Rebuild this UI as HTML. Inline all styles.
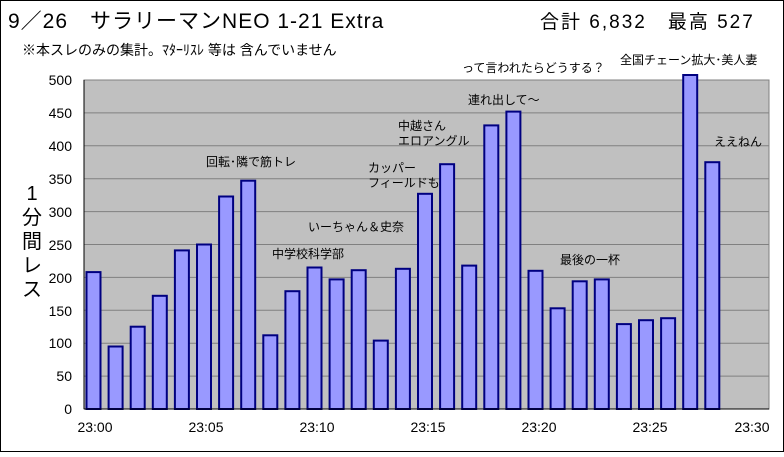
<!DOCTYPE html><html><head><meta charset="utf-8"><style>
body{margin:0;background:#fff}
svg text{font-family:"Liberation Sans","Noto Sans CJK JP",sans-serif;fill:#000}
</style></head><body>
<svg width="784" height="452" xmlns="http://www.w3.org/2000/svg">
<rect x="0.5" y="0.5" width="783" height="451" fill="#fff" stroke="#000"/>
<text x="8" y="28" font-size="21" letter-spacing="1">9／26　サラリーマンNEO 1-21 Extra</text>
<text x="540" y="28" font-size="19" letter-spacing="2">合計 6,832　最高 527</text>
<text x="22" y="55" font-size="14">※本スレのみの集計。ﾏﾀｰﾘｽﾚ 等は 含んでいません</text>
<rect x="84" y="80" width="685" height="329" fill="#c0c0c0" stroke="#808080"/>
<g stroke="#808080" stroke-width="1">
<line x1="84" x2="769" y1="112.9" y2="112.9"/><line x1="84" x2="769" y1="145.8" y2="145.8"/>
<line x1="84" x2="769" y1="178.7" y2="178.7"/><line x1="84" x2="769" y1="211.6" y2="211.6"/>
<line x1="84" x2="769" y1="244.5" y2="244.5"/><line x1="84" x2="769" y1="277.4" y2="277.4"/>
<line x1="84" x2="769" y1="310.3" y2="310.3"/><line x1="84" x2="769" y1="343.2" y2="343.2"/>
<line x1="84" x2="769" y1="376.1" y2="376.1"/>
</g>
<g font-size="14" text-anchor="end">
<text x="72" y="85">500</text><text x="72" y="118">450</text><text x="72" y="151">400</text>
<text x="72" y="184">350</text><text x="72" y="217">300</text><text x="72" y="250">250</text>
<text x="72" y="283">200</text><text x="72" y="316">150</text><text x="72" y="348">100</text>
<text x="72" y="381">50</text><text x="72" y="414">0</text>
</g>
<g font-size="20" text-anchor="middle">
<text x="32" y="200">1</text><text x="32" y="224">分</text><text x="32" y="248">間</text><text x="32" y="272">レ</text><text x="32" y="296">ス</text>
</g>
<g fill="#9999ff" stroke="#000080" stroke-width="2">
<rect x="86.5" y="272.1" width="14" height="136.9"/>
<rect x="108.6" y="346.5" width="14" height="62.5"/>
<rect x="130.7" y="326.7" width="14" height="82.3"/>
<rect x="152.8" y="295.8" width="14" height="113.2"/>
<rect x="174.9" y="250.4" width="14" height="158.6"/>
<rect x="197.0" y="244.5" width="14" height="164.5"/>
<rect x="219.1" y="196.5" width="14" height="212.5"/>
<rect x="241.2" y="180.7" width="14" height="228.3"/>
<rect x="263.3" y="335.3" width="14" height="73.7"/>
<rect x="285.4" y="291.2" width="14" height="117.8"/>
<rect x="307.5" y="267.5" width="14" height="141.5"/>
<rect x="329.6" y="279.4" width="14" height="129.6"/>
<rect x="351.7" y="270.2" width="14" height="138.8"/>
<rect x="373.8" y="340.6" width="14" height="68.4"/>
<rect x="395.9" y="268.8" width="14" height="140.2"/>
<rect x="418.0" y="193.8" width="14" height="215.2"/>
<rect x="440.1" y="164.2" width="14" height="244.8"/>
<rect x="462.2" y="265.6" width="14" height="143.4"/>
<rect x="484.3" y="125.4" width="14" height="283.6"/>
<rect x="506.4" y="111.6" width="14" height="297.4"/>
<rect x="528.5" y="270.8" width="14" height="138.2"/>
<rect x="550.6" y="308.3" width="14" height="100.7"/>
<rect x="572.7" y="281.3" width="14" height="127.7"/>
<rect x="594.8" y="279.4" width="14" height="129.6"/>
<rect x="616.9" y="324.1" width="14" height="84.9"/>
<rect x="639.0" y="320.2" width="14" height="88.8"/>
<rect x="661.1" y="318.2" width="14" height="90.8"/>
<rect x="683.2" y="75" width="14" height="334"/>
<rect x="705.3" y="162.2" width="14" height="246.8"/>
</g>
<line x1="84" y1="80" x2="84" y2="409" stroke="#000"/>
<line x1="84" y1="409" x2="769" y2="409" stroke="#000"/>
<g font-size="14" text-anchor="middle">
<text x="95" y="432">23:00</text><text x="206" y="432">23:05</text><text x="317" y="432">23:10</text>
<text x="428" y="432">23:15</text><text x="539" y="432">23:20</text><text x="650" y="432">23:25</text><text x="752" y="432">23:30</text>
</g>
<g font-size="12">
<text x="206" y="166">回転･隣で筋トレ</text>
<text x="272" y="258">中学校科学部</text>
<text x="308" y="231">いーちゃん＆史奈</text>
<text x="368" y="172">カッパー</text><text x="368" y="187">フィールドも</text>
<text x="398" y="130">中越さん</text><text x="398" y="145">エロアングル</text>
<text x="468" y="104">連れ出して～</text>
<text x="462" y="72">って言われたらどうする？</text>
<text x="560" y="264">最後の一杯</text>
<text x="620" y="64">全国チェーン拡大･美人妻</text>
<text x="714" y="146">ええねん</text>
</g>
</svg>
</body></html>
